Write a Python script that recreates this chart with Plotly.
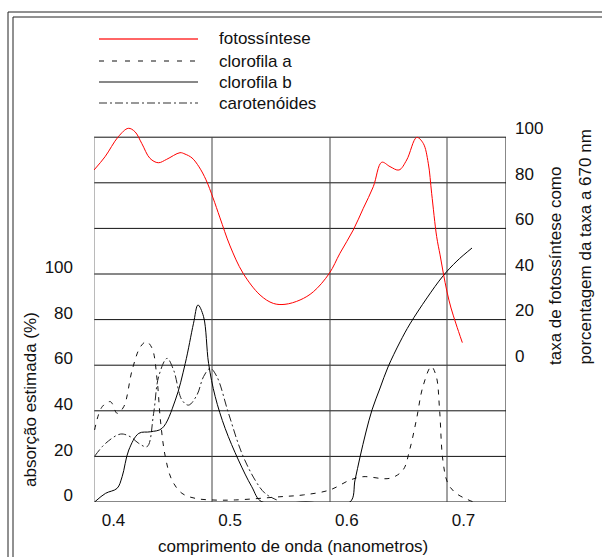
import plotly.graph_objects as go

# ---------------- data (wavelength in micrometres as labelled) ----------------
photo_x = [0.3833, 0.3927, 0.4041, 0.4127, 0.4184, 0.4242, 0.4313, 0.4384, 0.4456, 0.4570,
           0.4613, 0.4673, 0.4733, 0.4793, 0.4853, 0.4913, 0.4999, 0.5110, 0.5256, 0.5370,
           0.5470, 0.5599, 0.5713, 0.5850, 0.5941, 0.6055, 0.6141, 0.6227, 0.6299, 0.6370,
           0.6447, 0.6513, 0.6599, 0.6655, 0.6698, 0.6727, 0.6770, 0.6799, 0.6827, 0.6859,
           0.6893, 0.6936, 0.6990]
photo_y = [85.6, 91.4, 100.2, 103.9, 102.4, 97.3, 90.7, 88.8, 90.3, 93.2,
           92.6, 90.9, 87.0, 81.3, 73.4, 64.6, 52.3, 40.4, 30.8, 27.1,
           26.7, 28.6, 32.2, 40.3, 49.1, 59.3, 68.8, 78.3, 89.0, 87.1,
           85.6, 90.0, 99.9, 97.3, 88.6, 75.4, 56.4, 48.4, 40.4, 32.1,
           25.1, 18.1, 9.9]

cla_x = [0.3838, 0.3903, 0.3974, 0.4031, 0.4088, 0.4160, 0.4231, 0.4282, 0.4331, 0.4374,
         0.4402, 0.4444, 0.4501, 0.4587, 0.4701, 0.4844, 0.5043, 0.5427, 0.5627, 0.5855,
         0.6026, 0.6139, 0.6368, 0.6481, 0.6538, 0.6596, 0.6652, 0.6724, 0.6767, 0.6795,
         0.6823, 0.6866, 0.6937, 0.7080]
cla_y = [31.6, 41.8, 44.0, 38.9, 41.8, 57.9, 68.1, 70.3, 67.4, 53.5,
         36.0, 19.9, 9.6, 3.8, 1.6, 0.9, 0.9, 2.3, 3.1, 5.3,
         9.6, 11.1, 10.4, 14.0, 22.8, 36.0, 50.6, 59.4, 55.0, 40.4,
         18.4, 8.2, 3.8, 0.1]

clb_x = [0.3840, 0.3932, 0.4031, 0.4074, 0.4131, 0.4217, 0.4316, 0.4416, 0.4530, 0.4615,
         0.4686, 0.4724, 0.4772, 0.4815, 0.4872, 0.4957, 0.5071, 0.5185, 0.5271, 0.5650,
         0.6027, 0.6070, 0.6113, 0.6164, 0.6216, 0.6285, 0.6353, 0.6456, 0.6541, 0.6687,
         0.6824, 0.6944, 0.7073]
clb_y = [0.1, 3.8, 6.0, 11.1, 22.8, 30.1, 30.8, 32.3, 44.7, 60.8,
         78.4, 86.4, 81.3, 60.8, 46.2, 32.3, 18.4, 6.7, 0.1, 0.0,
         0.0, 9.6, 19.7, 30.7, 40.4, 50.0, 59.2, 70.2, 78.1, 89.5,
         99.1, 105.7, 111.4]

car_x = [0.3840, 0.3932, 0.4060, 0.4145, 0.4217, 0.4288, 0.4344, 0.4387, 0.4459, 0.4515,
         0.4587, 0.4644, 0.4715, 0.4772, 0.4829, 0.4886, 0.4986, 0.5100, 0.5214, 0.5299,
         0.5399]
car_y = [20.2, 25.7, 29.8, 28.6, 25.7, 24.3, 38.9, 55.0, 63.0, 57.9,
         44.7, 42.5, 46.9, 55.0, 58.6, 55.0, 38.9, 21.4, 9.6, 3.8,
         0.9]

x_ticks = [0.4, 0.5, 0.6, 0.7]
x_tick_labels = ["0.4", "0.5", "0.6", "0.7"]
left_ticks = [0, 20, 40, 60, 80, 100]
right_ticks = [0, 20, 40, 60, 80, 100]
h_grid = [0, 20, 40, 60, 80, 100, 120, 140, 160]
v_grid = [0.38329, 0.48444, 0.58558, 0.68586, 0.73643]

legend_names = ["fotossíntese", "clorofila a", "clorofila b", "carotenóides"]

# ---------------- layout geometry ----------------
W, H = 602, 557
PL, PR, PT, PB = 94, 506, 100, 502
X_RANGE = [0.38329, 0.73643]
LEFT_RANGE = [0, (PB - PT) / 2.28]
RIGHT_RANGE = [-60, -60 + (PB - PT) / 2.28]
LEFT_LABEL_SHIFT = 3
RIGHT_LABEL_SHIFT = 4


def pxx(px):
    return (px - PL) / (PR - PL)


def pxy(py):
    return (PB - py) / (PB - PT)


FONT = "Liberation Sans, Arial, sans-serif"
SMOOTH = 1.0

fig = go.Figure()
fig.add_trace(go.Scatter(x=cla_x, y=cla_y, mode="lines", yaxis="y",
                         line=dict(color="#111", width=1, dash="5px,6px", shape="spline", smoothing=SMOOTH)))
fig.add_trace(go.Scatter(x=car_x, y=car_y, mode="lines", yaxis="y",
                         line=dict(color="#222", width=1, dash="8px,3px,2px,3px", shape="spline", smoothing=SMOOTH)))
fig.add_trace(go.Scatter(x=clb_x, y=clb_y, mode="lines", yaxis="y",
                         line=dict(color="#000", width=1, shape="spline", smoothing=SMOOTH)))
fig.add_trace(go.Scatter(x=photo_x, y=photo_y, mode="lines", yaxis="y2",
                         line=dict(color="#ff0000", width=1, shape="spline", smoothing=SMOOTH)))

shapes = []
for g in h_grid:
    shapes.append(dict(type="line", xref="x", yref="y", x0=X_RANGE[0], x1=X_RANGE[1], y0=g, y1=g,
                       line=dict(color="#111", width=1), layer="below"))
for i, v in enumerate(v_grid):
    col = "#444" if 0 < i < len(v_grid) - 1 else "#111"
    if i == 0:
        col = "#777"
    shapes.append(dict(type="line", xref="x", yref="y", x0=v, x1=v, y0=h_grid[0], y1=h_grid[-1],
                       line=dict(color=col, width=1), layer="below"))

# double frame
for (x0, y0) in [(8, 12), (13, 17)]:
    shapes.append(dict(type="line", xref="paper", yref="paper", x0=pxx(x0), x1=pxx(W + 5),
                       y0=pxy(y0), y1=pxy(y0), line=dict(color="#222", width=1)))
    shapes.append(dict(type="line", xref="paper", yref="paper", x0=pxx(x0), x1=pxx(x0),
                       y0=pxy(y0), y1=pxy(H + 5), line=dict(color="#222", width=1)))

# legend samples
leg_rows = [39, 61, 82, 103]
leg_styles = [dict(color="#ff3333", width=1.3), dict(color="#111", width=1, dash="5px,8px"),
              dict(color="#111", width=1), dict(color="#777", width=1.3, dash="8px,3px,2px,3px")]
annotations = []
for name, row, sty in zip(legend_names, leg_rows, leg_styles):
    shapes.append(dict(type="line", xref="paper", yref="paper", x0=pxx(99), x1=pxx(198),
                       y0=pxy(row), y1=pxy(row), line=sty))
    annotations.append(dict(xref="paper", yref="paper", x=pxx(217), y=pxy(row), text=name,
                            showarrow=False, xanchor="left", yanchor="middle",
                            font=dict(family=FONT, size=17, color="#111")))

annotations.append(dict(xref="paper", yref="paper", x=pxx(293), y=pxy(546),
                        text="comprimento de onda (nanometros)", showarrow=False,
                        xanchor="center", yanchor="middle", font=dict(family=FONT, size=17, color="#111")))
annotations.append(dict(xref="paper", yref="paper", x=pxx(30), y=pxy(400),
                        text="absorção estimada (%)", showarrow=False, textangle=-90,
                        xanchor="center", yanchor="middle", font=dict(family=FONT, size=17, color="#111")))
annotations.append(dict(xref="paper", yref="paper", x=pxx(555), y=pxy(367),
                        text="taxa de fotossíntese como", showarrow=False, textangle=-90,
                        xanchor="center", yanchor="bottom", font=dict(family=FONT, size=17, color="#111")))
annotations.append(dict(xref="paper", yref="paper", x=pxx(585), y=pxy(367),
                        text="porcentagem da taxa a 670 nm", showarrow=False, textangle=-90,
                        xanchor="center", yanchor="bottom", font=dict(family=FONT, size=17, color="#111")))

tick_font = dict(family=FONT, size=17, color="#111")
fig.update_layout(
    width=W, height=H, margin=dict(l=PL, r=W - PR, t=PT, b=H - PB, pad=0),
    paper_bgcolor="white", plot_bgcolor="rgba(0,0,0,0)", showlegend=False,
    xaxis=dict(range=X_RANGE, tickvals=x_ticks, ticktext=x_tick_labels, showgrid=False,
               zeroline=False, showline=False, ticks="", tickfont=tick_font, ticklabelstandoff=6),
    yaxis=dict(range=LEFT_RANGE, tickvals=[v + LEFT_LABEL_SHIFT for v in left_ticks],
               ticktext=[str(v) for v in left_ticks], showgrid=False, zeroline=False,
               showline=False, ticks="", tickfont=tick_font, ticklabelstandoff=20),
    yaxis2=dict(range=RIGHT_RANGE, overlaying="y", side="right",
                tickvals=[v + RIGHT_LABEL_SHIFT for v in right_ticks],
                ticktext=[str(v) for v in right_ticks], showgrid=False, zeroline=False,
                showline=False, ticks="", tickfont=tick_font, ticklabelstandoff=8),
    shapes=shapes, annotations=annotations,
)

fig.write_html("out.html")
